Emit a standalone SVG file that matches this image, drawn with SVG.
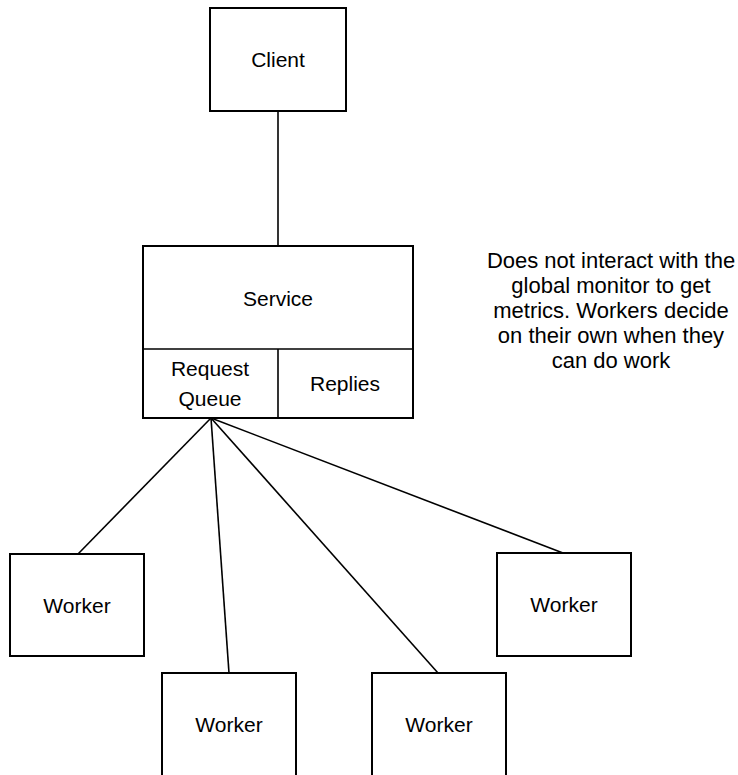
<svg xmlns="http://www.w3.org/2000/svg" width="738" height="775" viewBox="0 0 738 775">
  <style>
    .box { fill: #fff; stroke: #000; stroke-width: 2; }
    .edge { stroke: #000; stroke-width: 1.6; fill: none; }
    .lbl { font-family: "Liberation Sans", Arial, sans-serif; font-size: 21px; fill: #000; text-anchor: middle; }
    .note { font-family: "Liberation Sans", Arial, sans-serif; font-size: 22px; fill: #000; text-anchor: middle; }
  </style>
  <rect width="738" height="775" fill="#fff"/>

  <g id="connectors">
    <line class="edge" x1="278" y1="111" x2="278" y2="246"/>
    <line class="edge" x1="211" y1="418" x2="78" y2="554"/>
    <line class="edge" x1="211" y1="418" x2="229" y2="673"/>
    <line class="edge" x1="211" y1="418" x2="438" y2="673"/>
    <line class="edge" x1="211" y1="418" x2="563" y2="553"/>
  </g>

  <g id="client">
    <rect class="box" x="210" y="8" width="136" height="103"/>
    <text class="lbl" x="278" y="67">Client</text>
  </g>

  <g id="service">
    <rect class="box" x="143" y="246" width="270" height="172"/>
    <line class="edge" x1="143" y1="349" x2="413" y2="349" stroke-width="2"/>
    <text class="lbl" x="278" y="306">Service</text>
  </g>

  <g id="request-queue">
    <line class="edge" x1="278" y1="349" x2="278" y2="418" stroke-width="2"/>
    <text class="lbl" x="210" y="376">Request</text>
    <text class="lbl" x="210" y="406">Queue</text>
  </g>

  <g id="replies">
    <text class="lbl" x="345" y="391">Replies</text>
  </g>

  <g id="worker-1">
    <rect class="box" x="10" y="554" width="134" height="102"/>
    <text class="lbl" x="77" y="613">Worker</text>
  </g>

  <g id="worker-2">
    <rect class="box" x="162" y="673" width="134" height="110"/>
    <text class="lbl" x="229" y="732">Worker</text>
  </g>

  <g id="worker-3">
    <rect class="box" x="372" y="673" width="134" height="110"/>
    <text class="lbl" x="439" y="732">Worker</text>
  </g>

  <g id="worker-4">
    <rect class="box" x="497" y="553" width="134" height="103"/>
    <text class="lbl" x="564" y="612">Worker</text>
  </g>

  <g id="note">
    <text class="note" x="611" y="268">Does not interact with the</text>
    <text class="note" x="611" y="293">global monitor to get</text>
    <text class="note" x="611" y="318">metrics. Workers decide</text>
    <text class="note" x="611" y="343">on their own when they</text>
    <text class="note" x="611" y="368">can do work</text>
  </g>
</svg>
